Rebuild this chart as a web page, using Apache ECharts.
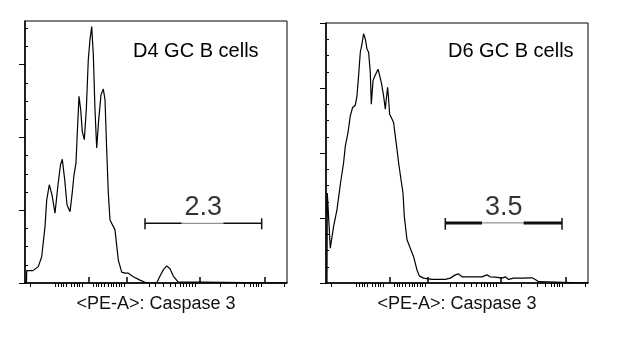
<!DOCTYPE html>
<html>
<head>
<meta charset="utf-8">
<script src="https://cdn.jsdelivr.net/npm/echarts@6/dist/echarts.min.js"></script>
<style>
  html, body { margin: 0; padding: 0; background: #fff; }
  #chart { width: 617px; height: 339px; }
</style>
</head>
<body>
<div id="chart"></div>
<script>
const FONT = '"Liberation Sans", Arial, sans-serif'

// x is the display channel of the logicle scale (0 - 262), y is event count
const d4X = [1.5, 1.7, 8, 13.3, 16.7, 20, 21.7, 24.3, 27, 30, 33, 35.5, 37.3, 39.7, 42, 45, 47, 49, 51, 52.3,
  54, 55.7, 57.3, 59.3, 61.3, 63.3, 65, 66.7, 68.3, 70, 71.7, 73.7, 76, 78.3, 80, 81.7, 83.3, 85, 90, 93.3,
  96.7, 100, 103.3, 108.3, 115, 121.7, 131.7, 135, 138.3, 141.7, 145, 148.3, 153, 155, 262]
const d4Y = [0, 3.4, 3.4, 4.5, 7.2, 15.5, 22.8, 27.0, 24.2, 19.2, 27.0, 32.5, 34.0, 28.4, 21.5, 19.6, 24.2, 29.7, 33.0, 41.3,
  51.3, 47.6, 41.6, 39.4, 47.6, 61.4, 66.9, 70.5, 62.8, 47.6, 37.1, 44.9, 51.7, 53.3, 50.4, 36.6, 24.8, 17.3, 14.6, 6.3,
  3.0, 2.7, 2.7, 1.7, 0.8, 0, 0, 1.9, 3.6, 4.7, 3.9, 1.9, 0.3, 0, 0]

const d6X = [1, 1.3, 4.3, 7.6, 11, 14.3, 17.6, 19.3, 22, 24.3, 26.6, 29.3, 31, 32.6, 34.3, 36, 37.6, 39.3, 41, 42.6,
  44.3, 45.3, 47, 48.3, 50, 52, 53.3, 55.3, 57.6, 59.3, 60.3, 61.6, 62.6, 63.6, 65.3, 67.6, 69.3, 71, 72.6, 75,
  77, 78.3, 81, 84.3, 87.6, 91, 93.3, 97.6, 106, 119.3, 124.3, 129.3, 132.6, 136, 156, 161, 164.3, 169.3, 176, 179.3,
  182.6, 187.6, 196, 206, 209.3, 212.6, 214.3, 262]
const d6Y = [0, 27.7, 10.7, 17.4, 22.6, 30.3, 37.0, 42.1, 46.3, 51.4, 54.0, 54.7, 57.6, 63.8, 71.0, 73.6, 76.7, 75.1, 72.0, 71.0,
  64.8, 55.0, 62.2, 63.3, 62.8, 65.8, 64.3, 61.7, 57.6, 53.5, 56.6, 60.2, 56.6, 51.9, 50.9, 49.4, 45.2, 41.1, 37.0, 31.8,
  27.7, 20.5, 13.3, 10.7, 8.1, 4.0, 2.2, 1.5, 1.1, 1.1, 1.5, 2.5, 2.8, 1.9, 1.9, 2.5, 1.9, 1.8, 1.5, 1.9,
  1.1, 1.5, 1.5, 1.6, 1.1, 0.4, 0, 0]

// logicle tick positions on the display channel
const xMajorTicks = [63.7, 101.7, 175, 239.3]
const xMinorTicks = [5.7, 30.7, 33.3, 36, 38.7, 41.3, 46.7, 49.3, 52, 54.7, 57.3, 68.3, 71, 73.7, 76.3, 79,
  83.3, 86, 88.7, 91.3, 94, 96.7, 99.3, 124, 130, 138.3, 145.7, 150, 155, 158, 161, 164, 167, 170,
  195, 211, 219.3, 225, 228, 231, 233.5, 236, 259]

const d4YMajor = [0, 20, 40, 60]
const d4YMinor = [5, 10, 15, 25, 30, 35, 45, 50, 55, 65, 70]
const d6YMajor = [0, 20, 40, 60, 80]
const d6YMinor = [5, 10, 15, 25, 30, 35, 45, 50, 55, 65, 70, 75]

// gate bars: segment break points, bar height, cap extent, label
const d4GateX = [120, 156.7, 198.3, 236.7]
const d4GateY = 16.4
const d4GateCap = [14.8, 17.8]
const d4GateLabel = '2.3'
const d6GateX = [119.3, 156, 197.6, 236]
const d6GateY = 18.5
const d6GateCap = [16.4, 20]
const d6GateLabel = '3.5'

const panelTitles = ['D4 GC B cells', 'D6 GC B cells']
const xAxisName = '<PE-A>: Caspase 3'

const pts = (xs, ys) => xs.map((x, k) => [x, ys[k]])

const panels = [
  { x: d4X, y: d4Y, yMax: 72, yMajor: d4YMajor, yMinor: d4YMinor, gateX: d4GateX, gateY: d4GateY, cap: d4GateCap, label: d4GateLabel, gateWidth: 1.6 },
  { x: d6X, y: d6Y, yMax: 80, yMajor: d6YMajor, yMinor: d6YMinor, gateX: d6GateX, gateY: d6GateY, cap: d6GateCap, label: d6GateLabel, gateWidth: 3 }
]

const grids = [
  { left: 25, right: 330, top: 21, bottom: 56 },
  { left: 326, right: 29, top: 23, bottom: 56 }
].map(g => ({ ...g, show: true, borderColor: '#000', borderWidth: 1, backgroundColor: 'transparent' }))

const xAxes = []
const yAxes = []
const series = []

panels.forEach((p, i) => {
  const base = { gridIndex: i, type: 'value', min: 0, max: 262, axisLabel: { show: false }, splitLine: { show: false } }
  xAxes.push({
    ...base,
    axisLine: { lineStyle: { color: '#000', width: 1.5 } },
    axisTick: { customValues: xMinorTicks, length: 4, lineStyle: { color: '#000', width: 1 } },
    name: xAxisName,
    nameLocation: 'middle',
    nameGap: 12,
    nameTextStyle: { fontFamily: FONT, fontSize: 18, color: '#111' }
  })
  xAxes.push({
    ...base,
    axisLine: { show: false },
    axisTick: { customValues: xMajorTicks, length: 6, lineStyle: { color: '#000', width: 1.5 } }
  })
  const yBase = { gridIndex: i, type: 'value', min: 0, max: p.yMax, axisLabel: { show: false }, splitLine: { show: false } }
  yAxes.push({
    ...yBase,
    axisLine: { lineStyle: { color: '#000', width: 1.5 } },
    axisTick: { customValues: p.yMajor, length: 6, lineStyle: { color: '#000', width: 1 } }
  })
  yAxes.push({
    ...yBase,
    axisLine: { show: false },
    axisTick: { customValues: p.yMinor, length: 3, lineStyle: { color: '#000', width: 1 } }
  })

  const xi = i * 2
  const yi = i * 2
  const common = { xAxisIndex: xi, yAxisIndex: yi, symbol: 'none', silent: true, animation: false }

  series.push({
    ...common,
    type: 'line',
    data: pts(p.x, p.y),
    lineStyle: { color: '#000', width: 1.2 }
  })
  // gate bar: dark ends, light middle under the number
  const g = p.gateX
  series.push({ ...common, type: 'line', data: [[g[0], p.gateY], [g[1], p.gateY]], lineStyle: { color: '#111', width: p.gateWidth } })
  series.push({ ...common, type: 'line', data: [[g[1], p.gateY], [g[2], p.gateY]], lineStyle: { color: '#777', width: 1 } })
  series.push({ ...common, type: 'line', data: [[g[2], p.gateY], [g[3], p.gateY]], lineStyle: { color: '#111', width: p.gateWidth } })
  series.push({ ...common, type: 'line', data: [[g[0], p.cap[0]], [g[0], p.cap[1]]], lineStyle: { color: '#111', width: 1.5 } })
  series.push({ ...common, type: 'line', data: [[g[3], p.cap[0]], [g[3], p.cap[1]]], lineStyle: { color: '#111', width: 1.5 } })
  series.push({
    xAxisIndex: xi, yAxisIndex: yi, type: 'scatter', silent: true, animation: false,
    symbolSize: 0,
    data: [[(g[0] + g[3]) / 2, p.gateY]],
    label: {
      show: true, position: 'top', distance: 2,
      formatter: () => p.label,
      fontFamily: FONT, fontSize: 27, color: '#000'
    }
  })
})

const chart = echarts.init(document.getElementById('chart'), null, { renderer: 'canvas' })
chart.setOption({
  backgroundColor: '#fff',
  animation: false,
  title: [
    { text: panelTitles[0], left: 133, top: 41, padding: 0, textStyle: { fontFamily: FONT, fontSize: 20, fontWeight: 'normal', color: '#000' } },
    { text: panelTitles[1], left: 448, top: 41, padding: 0, textStyle: { fontFamily: FONT, fontSize: 20, fontWeight: 'normal', color: '#000' } }
  ],
  grid: grids,
  xAxis: xAxes,
  yAxis: yAxes,
  series
})
</script>
</body>
</html>
